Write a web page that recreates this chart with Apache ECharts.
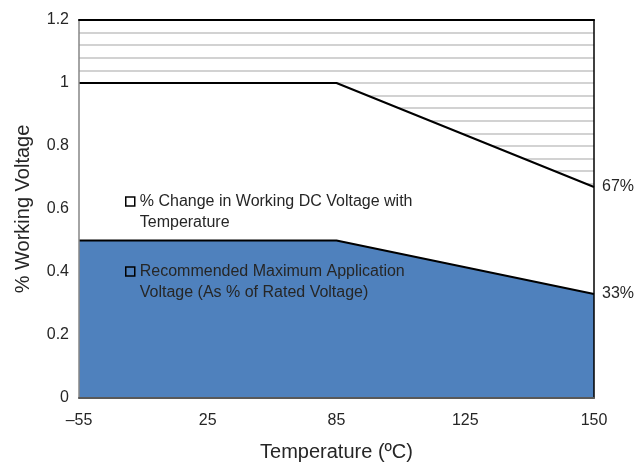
<!DOCTYPE html>
<html><head><meta charset="utf-8">
<script src="https://cdn.jsdelivr.net/npm/echarts@6/dist/echarts.min.js"></script>
<style>html,body{margin:0;padding:0;background:#fff}#c{width:636px;height:462px}</style>
</head><body><div id="c"></div>
<script>
const categories = ['\u201355', '25', '85', '125', '150'];
const workingVoltage = [1, 1, 1, 0.835, 0.67];
const recommendedVoltage = [0.5, 0.5, 0.5, 0.415, 0.33];
const seriesNames = ['% Change in Working DC Voltage with\nTemperature', 'Recommended Maximum Application\nVoltage (As % of Rated Voltage)'];
const FONT = "'Liberation Sans', Arial, sans-serif";
const TXT = '#262626';
const chart = echarts.init(document.getElementById('c'));
const endLbl = {
  show: true, distance: 8, color: TXT, fontFamily: FONT, fontSize: 16,
  formatter: p => Math.round(p.value * 100) + '%'
};
chart.setOption({
  animation: false,
  grid: { left: 79, right: 42, top: 20, bottom: 64, show: false, containLabel: false, outerBoundsMode: 'none' },
  legend: {
    orient: 'vertical', left: 120, top: 186, itemGap: 28, itemWidth: 9, itemHeight: 30,
    icon: 'path://M0,0h9v9h-9zM0,30',
    itemStyle: { color: 'rgba(0,0,0,0)', borderColor: '#000', borderWidth: 1.5 },
    textStyle: { fontFamily: FONT, fontSize: 16, color: TXT, lineHeight: 21 },
    data: seriesNames
  },
  xAxis: [{
    type: 'category', data: categories, boundaryGap: false, z: 10,
    axisLine: { onZero: false, lineStyle: { color: '#595959', width: 2 } },
    axisTick: { show: false },
    axisLabel: { color: TXT, fontFamily: FONT, fontSize: 16, margin: 15 },
    name: 'Temperature (\u00baC)', nameLocation: 'middle', nameGap: 44,
    nameTextStyle: { color: TXT, fontFamily: FONT, fontSize: 20 }
  }, {
    type: 'category', data: categories, boundaryGap: false, position: 'top', z: 10,
    axisLine: { onZero: false, lineStyle: { color: '#000', width: 2 } },
    axisTick: { show: false }, axisLabel: { show: false }
  }],
  yAxis: [{
    type: 'value', min: 0, max: 1.2, interval: 0.2, z: 10,
    axisLine: { show: true, onZero: false, lineStyle: { color: '#868686', width: 1.5 } },
    axisTick: { show: false },
    splitLine: { show: false },
    axisLabel: { color: TXT, fontFamily: FONT, fontSize: 16, margin: 10 },
    name: '% Working Voltage', nameLocation: 'middle', nameGap: 46,
    nameTextStyle: { color: TXT, fontFamily: FONT, fontSize: 20 }
  }, {
    type: 'value', min: 0, max: 1.2, interval: 0.2, position: 'right', z: 0,
    axisLine: { show: false }, axisTick: { show: false }, axisLabel: { show: false },
    splitLine: { show: true, lineStyle: { color: '#C4C4C4', width: 1.5 } },
    minorTick: { show: false, splitNumber: 5 },
    minorSplitLine: { show: true, lineStyle: { color: '#C4C4C4', width: 1.5 } }
  }, {
    type: 'value', min: 0, max: 1.2, interval: 0.2, position: 'right', z: 10,
    axisLine: { show: true, onZero: false, lineStyle: { color: '#000', width: 1.5 } },
    axisTick: { show: false }, axisLabel: { show: false }, splitLine: { show: false }
  }],
  series: [{
    name: seriesNames[0], type: 'line', data: workingVoltage, symbol: 'none',
    lineStyle: { color: '#000', width: 2 },
    itemStyle: { color: '#000' },
    areaStyle: { color: '#fff', opacity: 1 },
    endLabel: endLbl, z: 2
  }, {
    name: seriesNames[1], type: 'line', data: recommendedVoltage, symbol: 'none',
    lineStyle: { color: '#000', width: 2 },
    itemStyle: { color: '#000' },
    areaStyle: { color: '#4F81BD', opacity: 1 },
    endLabel: endLbl, z: 3
  }]
});
</script></body></html>
